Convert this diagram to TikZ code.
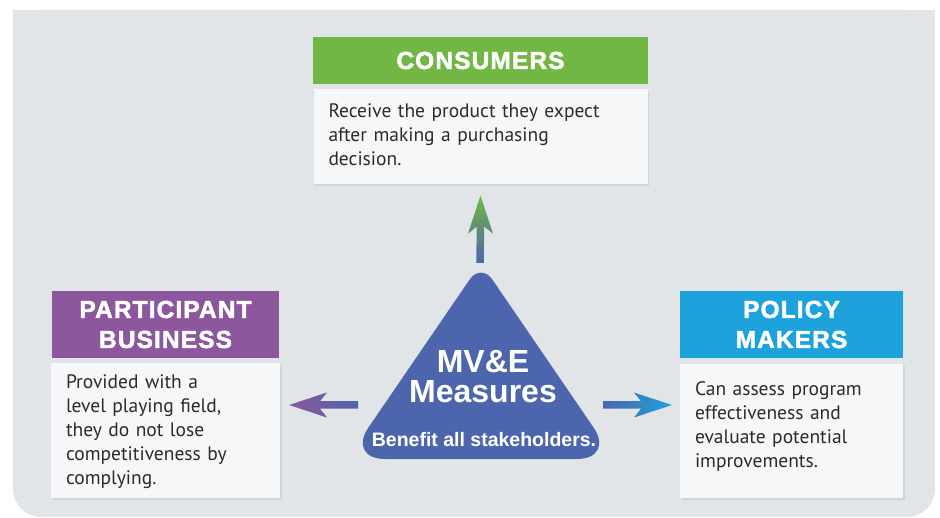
\documentclass[tikz,border=0pt]{standalone}
\usepackage{fontspec}
\setmainfont{PT Sans}
\newfontfamily\headfont[LetterSpace=4.5,BoldFeatures={FakeBold=2}]{Liberation Sans}
\newfontfamily\trifont{Liberation Sans}
\usetikzlibrary{positioning}
\usetikzlibrary{calc}
\usetikzlibrary{shadows}
\definecolor{panel}{HTML}{E1E5E8}
\definecolor{boxc}{HTML}{F6F7F9}
\definecolor{txt}{HTML}{2B2B2B}
\definecolor{consc}{HTML}{72B743}
\definecolor{partc}{HTML}{8C579D}
\definecolor{polc}{HTML}{1EA2DC}
\definecolor{tri}{HTML}{4D65AC}

\begin{document}
\begin{tikzpicture}[x=1pt,y=-1pt,
  head/.style={inner sep=0pt,text=white,align=center,font=\headfont\bfseries\fontsize{24.5}{30}\selectfont},
  body/.style={fill=boxc,text=txt,align=left,inner xsep=15pt,inner ysep=0pt,font=\fontsize{19.5}{24}\selectfont,drop shadow={shadow xshift=1.5pt,shadow yshift=-1.5pt,fill=black,opacity=.07}}]
  \useasboundingbox (0,0) rectangle (940,518);
  \fill[panel] (13,10) rectangle (935,60);
  \fill[panel,rounded corners=28pt] (13,10) rectangle (935,517);
  \node[head,fill=consc,minimum width=335pt,minimum height=47pt] (cons) at (480.5,60.5) {CONSUMERS};
  \node[body,below=5pt of cons,text width=304pt,text height=28pt,text depth=67pt] (consb) {Receive the product they expect\\after making a purchasing\\decision.};
  \node[head,fill=partc,minimum width=227pt,minimum height=67pt] (part) at (165.5,324.5) {PARTICIPANT\\BUSINESS};
  \node[body,below=5pt of part,text width=199pt,text height=25pt,text depth=110pt] (partb) {Provided with a\\level playing field,\\they do not lose\\competitiveness by\\complying.};
  \node[head,fill=polc,minimum width=223pt,minimum height=67pt] (pol) at (791.5,324.5) {POLICY\\MAKERS};
  \node[body,below=6pt of pol,text width=193pt,text height=31pt,text depth=103pt] (polb) {Can assess program\\effectiveness and\\evaluate potential\\improvements.};
  \fill[tri] (385,459) -- (577,459) .. controls (598,459) and (605.4,444.9) .. (593.6,427.6) -- (492.3,279.5) .. controls (486.1,270.4) and (475.9,270.4) .. (469.7,279.5) -- (368.4,427.6) .. controls (356.6,444.9) and (364,459) .. (385,459) -- cycle;
  \node[text=white,align=center,inner sep=0pt,font=\trifont\bfseries\fontsize{32}{30}\selectfont] (mve) at (483,377) {MV\&E\\Measures};
  \node[text=white,inner sep=0pt,font=\trifont\bfseries\fontsize{19.5}{20}\selectfont] (benefit) at (484,440) {Benefit all stakeholders.};
  \coordinate (up1) at (480,263);
  \coordinate (up2) at ($(consb.south)+(0,11)$);
  \coordinate (lt1) at (289,405);
  \coordinate (lt2) at (358,405);
  \coordinate (rt1) at (603,405);
  \coordinate (rt2) at (672,405);
  \shade[top color=consc,bottom color=tri] (up2) -- ++(-12.5,38) -- ++(8.75,-7) -- ($(up1)+(-3.75,0)$) -- ($(up1)+(3.75,0)$) -- ($(up2)+(3.75,31)$) -- ++(8.75,7) -- cycle;
  \shade[left color=partc,right color=tri] (lt1) -- ++(38,-12.5) -- ++(-7,8.75) -- ($(lt2)+(0,-3.75)$) -- ($(lt2)+(0,3.75)$) -- ($(lt1)+(31,3.75)$) -- ++(7,8.75) -- cycle;
  \shade[left color=tri,right color=polc] (rt2) -- ++(-38,-12.5) -- ++(7,8.75) -- ($(rt1)+(0,-3.75)$) -- ($(rt1)+(0,3.75)$) -- ($(rt2)+(-31,3.75)$) -- ++(-7,8.75) -- cycle;
\end{tikzpicture}
\end{document}
